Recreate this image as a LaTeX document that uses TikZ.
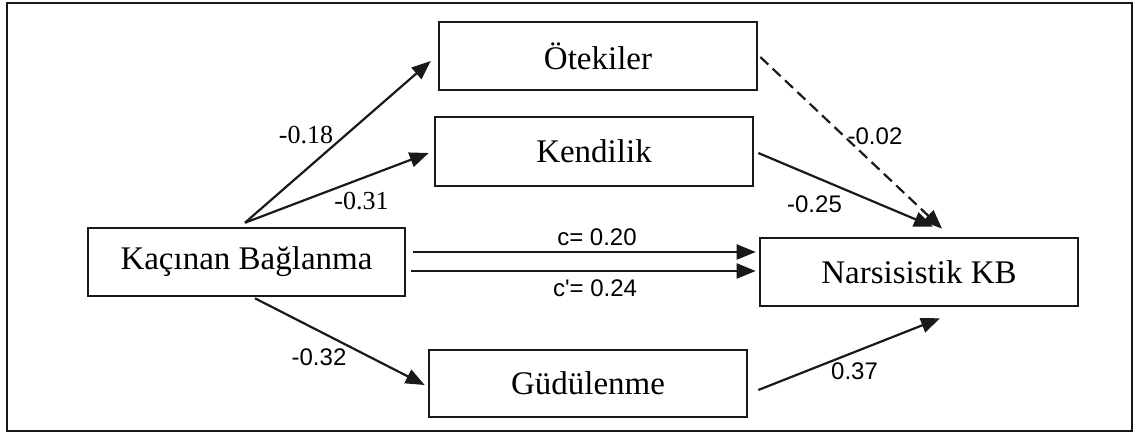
\documentclass[tikz,border=0pt]{standalone}
\usepackage{fontspec}
\setmainfont{Liberation Serif}
\newfontfamily\lblsans{Liberation Sans}
\usetikzlibrary{arrows.meta}
\begin{document}
\begin{tikzpicture}[x=1pt,y=-1pt,
  box/.style={draw=black!90, line width=2.6pt, minimum width=318pt, minimum height=68pt, inner sep=0pt,
    font=\fontsize{33}{38}\selectfont},
  arr/.style={draw=black!90, line width=2.2pt, -{Triangle[length=19pt,width=15pt]}},
  dasharr/.style={arr, dash pattern=on 11pt off 6pt},
  lblserif/.style={inner sep=0pt, font=\fontsize{26}{30}\selectfont},
  lblsf/.style={inner sep=0pt, font=\lblsans\fontsize{24}{28}\selectfont}]
\useasboundingbox (0,0) rectangle (1137,434);
\draw[black!90, line width=2.4pt] (7,3) rectangle (1132,431);

\node[box, minimum width=317pt] (kac) at (246.5,262) {Kaçınan Bağlanma};
\node[box] (ote) at (598,56) {Ötekiler};
\node[box, minimum height=69pt] (ken) at (594,151.5) {Kendilik};
\node[box] (nar) at (919,272) {Narsisistik KB};
\node[box, minimum height=67pt] (gud) at (588,383.5) {Güdülenme};

\draw[arr] ([xshift=-1.5pt,yshift=4pt]kac.north) -- ([xshift=-7pt,yshift=-5pt]ote.west);
\draw[arr] ([xshift=-1.5pt,yshift=4pt]kac.north) -- ([xshift=-5pt,yshift=-1.5pt]ken.west);
\draw[arr] ([xshift=7pt,yshift=10pt]kac.east) -- ([xshift=-3pt,yshift=20pt]nar.west);
\draw[arr] ([xshift=5pt,yshift=-9pt]kac.east) -- ([xshift=-3pt,yshift=1pt]nar.west);
\draw[arr] ([xshift=8.5pt,yshift=-1pt]kac.south) -- ([xshift=-3pt,yshift=-1.5pt]gud.west);
\draw[arr] ([xshift=10pt,yshift=-6.5pt]gud.east) -- ([xshift=21pt,yshift=-11pt]nar.south);
\draw[arr] ([xshift=4pt,yshift=-1.5pt]ken.east) -- ([xshift=14pt,yshift=10pt]nar.north);
\draw[dasharr] ([xshift=2pt,yshift=-1pt]ote.east) -- ([xshift=23pt,yshift=8pt]nar.north);

\node[lblserif] (l1) at (306,135) {-0.18};
\node[lblserif] (l2) at (361.5,201) {-0.31};
\node[lblsf] (l3) at (597,237) {c= 0.20};
\node[lblsf] (l4) at (595,288) {c'= 0.24};
\node[lblsf] (l5) at (875,136) {-0.02};
\node[lblsf] (l6) at (814.5,204) {-0.25};
\node[lblsf] (l7) at (854.5,371) {0.37};
\node[lblsf] (l8) at (319,357.5) {-0.32};
\end{tikzpicture}
\end{document}
